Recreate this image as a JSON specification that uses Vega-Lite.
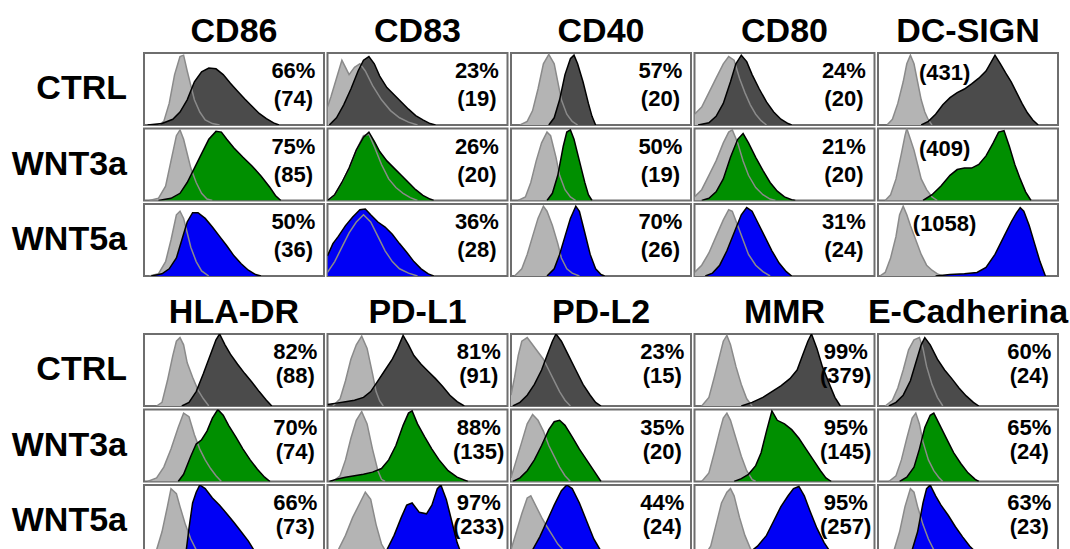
{
"$schema":"https://vega.github.io/schema/vega-lite/v6.json",
"background":"white",
"padding":{"left":11,"top":15,"right":0,"bottom":0},
"data":{"values":[
{"m":"CD86","c":"CTRL","s":"i","x":8,"y":0},{"m":"CD86","c":"CTRL","s":"i","x":11,"y":0.05},{"m":"CD86","c":"CTRL","s":"i","x":14,"y":0.3},{"m":"CD86","c":"CTRL","s":"i","x":17,"y":0.7},{"m":"CD86","c":"CTRL","s":"i","x":20,"y":0.95},{"m":"CD86","c":"CTRL","s":"i","x":22,"y":0.97},{"m":"CD86","c":"CTRL","s":"i","x":24,"y":0.75},{"m":"CD86","c":"CTRL","s":"i","x":26,"y":0.55},{"m":"CD86","c":"CTRL","s":"i","x":28,"y":0.35},{"m":"CD86","c":"CTRL","s":"i","x":31,"y":0.18},{"m":"CD86","c":"CTRL","s":"i","x":34,"y":0.07},{"m":"CD86","c":"CTRL","s":"i","x":38,"y":0.02},{"m":"CD86","c":"CTRL","s":"i","x":42,"y":0},
{"m":"CD86","c":"CTRL","s":"s","x":2,"y":0},{"m":"CD86","c":"CTRL","s":"s","x":10,"y":0.02},{"m":"CD86","c":"CTRL","s":"s","x":16,"y":0.08},{"m":"CD86","c":"CTRL","s":"s","x":20,"y":0.18},{"m":"CD86","c":"CTRL","s":"s","x":24,"y":0.35},{"m":"CD86","c":"CTRL","s":"s","x":28,"y":0.6},{"m":"CD86","c":"CTRL","s":"s","x":32,"y":0.74},{"m":"CD86","c":"CTRL","s":"s","x":36,"y":0.79},{"m":"CD86","c":"CTRL","s":"s","x":40,"y":0.78},{"m":"CD86","c":"CTRL","s":"s","x":44,"y":0.7},{"m":"CD86","c":"CTRL","s":"s","x":48,"y":0.58},{"m":"CD86","c":"CTRL","s":"s","x":52,"y":0.47},{"m":"CD86","c":"CTRL","s":"s","x":56,"y":0.36},{"m":"CD86","c":"CTRL","s":"s","x":60,"y":0.26},{"m":"CD86","c":"CTRL","s":"s","x":64,"y":0.16},{"m":"CD86","c":"CTRL","s":"s","x":68,"y":0.09},{"m":"CD86","c":"CTRL","s":"s","x":72,"y":0.03},{"m":"CD86","c":"CTRL","s":"s","x":75,"y":0},
{"m":"CD86","c":"WNT3a","s":"i","x":3,"y":0},{"m":"CD86","c":"WNT3a","s":"i","x":8,"y":0.03},{"m":"CD86","c":"WNT3a","s":"i","x":12,"y":0.2},{"m":"CD86","c":"WNT3a","s":"i","x":15,"y":0.55},{"m":"CD86","c":"WNT3a","s":"i","x":18,"y":0.9},{"m":"CD86","c":"WNT3a","s":"i","x":20,"y":0.98},{"m":"CD86","c":"WNT3a","s":"i","x":22,"y":0.85},{"m":"CD86","c":"WNT3a","s":"i","x":24,"y":0.65},{"m":"CD86","c":"WNT3a","s":"i","x":26,"y":0.45},{"m":"CD86","c":"WNT3a","s":"i","x":29,"y":0.25},{"m":"CD86","c":"WNT3a","s":"i","x":32,"y":0.1},{"m":"CD86","c":"WNT3a","s":"i","x":35,"y":0.02},{"m":"CD86","c":"WNT3a","s":"i","x":38,"y":0},
{"m":"CD86","c":"WNT3a","s":"s","x":8,"y":0},{"m":"CD86","c":"WNT3a","s":"s","x":15,"y":0.03},{"m":"CD86","c":"WNT3a","s":"s","x":20,"y":0.1},{"m":"CD86","c":"WNT3a","s":"s","x":24,"y":0.25},{"m":"CD86","c":"WNT3a","s":"s","x":28,"y":0.45},{"m":"CD86","c":"WNT3a","s":"s","x":32,"y":0.65},{"m":"CD86","c":"WNT3a","s":"s","x":36,"y":0.85},{"m":"CD86","c":"WNT3a","s":"s","x":40,"y":0.96},{"m":"CD86","c":"WNT3a","s":"s","x":43,"y":0.95},{"m":"CD86","c":"WNT3a","s":"s","x":46,"y":0.85},{"m":"CD86","c":"WNT3a","s":"s","x":50,"y":0.73},{"m":"CD86","c":"WNT3a","s":"s","x":55,"y":0.6},{"m":"CD86","c":"WNT3a","s":"s","x":60,"y":0.48},{"m":"CD86","c":"WNT3a","s":"s","x":65,"y":0.34},{"m":"CD86","c":"WNT3a","s":"s","x":70,"y":0.18},{"m":"CD86","c":"WNT3a","s":"s","x":73,"y":0.07},{"m":"CD86","c":"WNT3a","s":"s","x":76,"y":0},
{"m":"CD86","c":"WNT5a","s":"i","x":3,"y":0},{"m":"CD86","c":"WNT5a","s":"i","x":8,"y":0.03},{"m":"CD86","c":"WNT5a","s":"i","x":12,"y":0.2},{"m":"CD86","c":"WNT5a","s":"i","x":15,"y":0.5},{"m":"CD86","c":"WNT5a","s":"i","x":18,"y":0.85},{"m":"CD86","c":"WNT5a","s":"i","x":20,"y":0.9},{"m":"CD86","c":"WNT5a","s":"i","x":22,"y":0.8},{"m":"CD86","c":"WNT5a","s":"i","x":24,"y":0.6},{"m":"CD86","c":"WNT5a","s":"i","x":26,"y":0.4},{"m":"CD86","c":"WNT5a","s":"i","x":29,"y":0.2},{"m":"CD86","c":"WNT5a","s":"i","x":32,"y":0.07},{"m":"CD86","c":"WNT5a","s":"i","x":36,"y":0},
{"m":"CD86","c":"WNT5a","s":"s","x":4,"y":0},{"m":"CD86","c":"WNT5a","s":"s","x":10,"y":0.03},{"m":"CD86","c":"WNT5a","s":"s","x":14,"y":0.1},{"m":"CD86","c":"WNT5a","s":"s","x":18,"y":0.25},{"m":"CD86","c":"WNT5a","s":"s","x":21,"y":0.5},{"m":"CD86","c":"WNT5a","s":"s","x":24,"y":0.75},{"m":"CD86","c":"WNT5a","s":"s","x":27,"y":0.88},{"m":"CD86","c":"WNT5a","s":"s","x":30,"y":0.88},{"m":"CD86","c":"WNT5a","s":"s","x":34,"y":0.8},{"m":"CD86","c":"WNT5a","s":"s","x":38,"y":0.68},{"m":"CD86","c":"WNT5a","s":"s","x":42,"y":0.55},{"m":"CD86","c":"WNT5a","s":"s","x":46,"y":0.42},{"m":"CD86","c":"WNT5a","s":"s","x":50,"y":0.28},{"m":"CD86","c":"WNT5a","s":"s","x":54,"y":0.17},{"m":"CD86","c":"WNT5a","s":"s","x":58,"y":0.08},{"m":"CD86","c":"WNT5a","s":"s","x":62,"y":0.02},{"m":"CD86","c":"WNT5a","s":"s","x":65,"y":0},
{"m":"CD83","c":"CTRL","s":"i","x":0,"y":0.25},{"m":"CD83","c":"CTRL","s":"i","x":2,"y":0.4},{"m":"CD83","c":"CTRL","s":"i","x":5,"y":0.65},{"m":"CD83","c":"CTRL","s":"i","x":8,"y":0.9},{"m":"CD83","c":"CTRL","s":"i","x":10,"y":0.8},{"m":"CD83","c":"CTRL","s":"i","x":12,"y":0.7},{"m":"CD83","c":"CTRL","s":"i","x":15,"y":0.8},{"m":"CD83","c":"CTRL","s":"i","x":18,"y":0.85},{"m":"CD83","c":"CTRL","s":"i","x":21,"y":0.75},{"m":"CD83","c":"CTRL","s":"i","x":25,"y":0.55},{"m":"CD83","c":"CTRL","s":"i","x":30,"y":0.35},{"m":"CD83","c":"CTRL","s":"i","x":35,"y":0.2},{"m":"CD83","c":"CTRL","s":"i","x":40,"y":0.1},{"m":"CD83","c":"CTRL","s":"i","x":45,"y":0.04},{"m":"CD83","c":"CTRL","s":"i","x":50,"y":0},
{"m":"CD83","c":"CTRL","s":"s","x":1,"y":0},{"m":"CD83","c":"CTRL","s":"s","x":5,"y":0.1},{"m":"CD83","c":"CTRL","s":"s","x":9,"y":0.28},{"m":"CD83","c":"CTRL","s":"s","x":13,"y":0.5},{"m":"CD83","c":"CTRL","s":"s","x":17,"y":0.75},{"m":"CD83","c":"CTRL","s":"s","x":20,"y":0.9},{"m":"CD83","c":"CTRL","s":"s","x":23,"y":0.95},{"m":"CD83","c":"CTRL","s":"s","x":26,"y":0.85},{"m":"CD83","c":"CTRL","s":"s","x":29,"y":0.68},{"m":"CD83","c":"CTRL","s":"s","x":33,"y":0.52},{"m":"CD83","c":"CTRL","s":"s","x":37,"y":0.42},{"m":"CD83","c":"CTRL","s":"s","x":41,"y":0.32},{"m":"CD83","c":"CTRL","s":"s","x":45,"y":0.22},{"m":"CD83","c":"CTRL","s":"s","x":49,"y":0.13},{"m":"CD83","c":"CTRL","s":"s","x":53,"y":0.07},{"m":"CD83","c":"CTRL","s":"s","x":57,"y":0.02},{"m":"CD83","c":"CTRL","s":"s","x":60,"y":0},
{"m":"CD83","c":"WNT3a","s":"i","x":0,"y":0},{"m":"CD83","c":"WNT3a","s":"i","x":4,"y":0.08},{"m":"CD83","c":"WNT3a","s":"i","x":8,"y":0.25},{"m":"CD83","c":"WNT3a","s":"i","x":12,"y":0.45},{"m":"CD83","c":"WNT3a","s":"i","x":16,"y":0.7},{"m":"CD83","c":"WNT3a","s":"i","x":20,"y":0.9},{"m":"CD83","c":"WNT3a","s":"i","x":23,"y":0.92},{"m":"CD83","c":"WNT3a","s":"i","x":26,"y":0.75},{"m":"CD83","c":"WNT3a","s":"i","x":30,"y":0.5},{"m":"CD83","c":"WNT3a","s":"i","x":34,"y":0.3},{"m":"CD83","c":"WNT3a","s":"i","x":38,"y":0.18},{"m":"CD83","c":"WNT3a","s":"i","x":42,"y":0.1},{"m":"CD83","c":"WNT3a","s":"i","x":46,"y":0.04},{"m":"CD83","c":"WNT3a","s":"i","x":50,"y":0},
{"m":"CD83","c":"WNT3a","s":"s","x":0,"y":0},{"m":"CD83","c":"WNT3a","s":"s","x":4,"y":0.08},{"m":"CD83","c":"WNT3a","s":"s","x":8,"y":0.25},{"m":"CD83","c":"WNT3a","s":"s","x":12,"y":0.45},{"m":"CD83","c":"WNT3a","s":"s","x":16,"y":0.7},{"m":"CD83","c":"WNT3a","s":"s","x":20,"y":0.88},{"m":"CD83","c":"WNT3a","s":"s","x":23,"y":0.95},{"m":"CD83","c":"WNT3a","s":"s","x":26,"y":0.82},{"m":"CD83","c":"WNT3a","s":"s","x":29,"y":0.68},{"m":"CD83","c":"WNT3a","s":"s","x":33,"y":0.55},{"m":"CD83","c":"WNT3a","s":"s","x":37,"y":0.45},{"m":"CD83","c":"WNT3a","s":"s","x":41,"y":0.35},{"m":"CD83","c":"WNT3a","s":"s","x":45,"y":0.25},{"m":"CD83","c":"WNT3a","s":"s","x":49,"y":0.15},{"m":"CD83","c":"WNT3a","s":"s","x":53,"y":0.07},{"m":"CD83","c":"WNT3a","s":"s","x":57,"y":0.02},{"m":"CD83","c":"WNT3a","s":"s","x":59,"y":0},
{"m":"CD83","c":"WNT5a","s":"i","x":0,"y":0.05},{"m":"CD83","c":"WNT5a","s":"i","x":4,"y":0.2},{"m":"CD83","c":"WNT5a","s":"i","x":8,"y":0.4},{"m":"CD83","c":"WNT5a","s":"i","x":12,"y":0.6},{"m":"CD83","c":"WNT5a","s":"i","x":16,"y":0.75},{"m":"CD83","c":"WNT5a","s":"i","x":20,"y":0.85},{"m":"CD83","c":"WNT5a","s":"i","x":24,"y":0.75},{"m":"CD83","c":"WNT5a","s":"i","x":28,"y":0.55},{"m":"CD83","c":"WNT5a","s":"i","x":32,"y":0.35},{"m":"CD83","c":"WNT5a","s":"i","x":36,"y":0.2},{"m":"CD83","c":"WNT5a","s":"i","x":40,"y":0.1},{"m":"CD83","c":"WNT5a","s":"i","x":45,"y":0.04},{"m":"CD83","c":"WNT5a","s":"i","x":50,"y":0},
{"m":"CD83","c":"WNT5a","s":"s","x":0,"y":0.28},{"m":"CD83","c":"WNT5a","s":"s","x":3,"y":0.45},{"m":"CD83","c":"WNT5a","s":"s","x":6,"y":0.55},{"m":"CD83","c":"WNT5a","s":"s","x":10,"y":0.7},{"m":"CD83","c":"WNT5a","s":"s","x":14,"y":0.82},{"m":"CD83","c":"WNT5a","s":"s","x":18,"y":0.92},{"m":"CD83","c":"WNT5a","s":"s","x":21,"y":0.93},{"m":"CD83","c":"WNT5a","s":"s","x":24,"y":0.85},{"m":"CD83","c":"WNT5a","s":"s","x":28,"y":0.75},{"m":"CD83","c":"WNT5a","s":"s","x":32,"y":0.68},{"m":"CD83","c":"WNT5a","s":"s","x":36,"y":0.58},{"m":"CD83","c":"WNT5a","s":"s","x":40,"y":0.45},{"m":"CD83","c":"WNT5a","s":"s","x":44,"y":0.33},{"m":"CD83","c":"WNT5a","s":"s","x":48,"y":0.2},{"m":"CD83","c":"WNT5a","s":"s","x":52,"y":0.1},{"m":"CD83","c":"WNT5a","s":"s","x":56,"y":0.03},{"m":"CD83","c":"WNT5a","s":"s","x":59,"y":0},
{"m":"CD40","c":"CTRL","s":"i","x":5,"y":0},{"m":"CD40","c":"CTRL","s":"i","x":9,"y":0.05},{"m":"CD40","c":"CTRL","s":"i","x":12,"y":0.2},{"m":"CD40","c":"CTRL","s":"i","x":15,"y":0.5},{"m":"CD40","c":"CTRL","s":"i","x":18,"y":0.85},{"m":"CD40","c":"CTRL","s":"i","x":21,"y":0.98},{"m":"CD40","c":"CTRL","s":"i","x":24,"y":0.85},{"m":"CD40","c":"CTRL","s":"i","x":26,"y":0.6},{"m":"CD40","c":"CTRL","s":"i","x":28,"y":0.35},{"m":"CD40","c":"CTRL","s":"i","x":31,"y":0.15},{"m":"CD40","c":"CTRL","s":"i","x":34,"y":0.05},{"m":"CD40","c":"CTRL","s":"i","x":37,"y":0},
{"m":"CD40","c":"CTRL","s":"s","x":21,"y":0},{"m":"CD40","c":"CTRL","s":"s","x":24,"y":0.1},{"m":"CD40","c":"CTRL","s":"s","x":27,"y":0.35},{"m":"CD40","c":"CTRL","s":"s","x":30,"y":0.7},{"m":"CD40","c":"CTRL","s":"s","x":33,"y":0.92},{"m":"CD40","c":"CTRL","s":"s","x":35,"y":0.97},{"m":"CD40","c":"CTRL","s":"s","x":37,"y":0.85},{"m":"CD40","c":"CTRL","s":"s","x":40,"y":0.6},{"m":"CD40","c":"CTRL","s":"s","x":43,"y":0.3},{"m":"CD40","c":"CTRL","s":"s","x":45,"y":0.12},{"m":"CD40","c":"CTRL","s":"s","x":47,"y":0},
{"m":"CD40","c":"WNT3a","s":"i","x":4,"y":0},{"m":"CD40","c":"WNT3a","s":"i","x":8,"y":0.05},{"m":"CD40","c":"WNT3a","s":"i","x":11,"y":0.25},{"m":"CD40","c":"WNT3a","s":"i","x":14,"y":0.55},{"m":"CD40","c":"WNT3a","s":"i","x":17,"y":0.8},{"m":"CD40","c":"WNT3a","s":"i","x":20,"y":0.95},{"m":"CD40","c":"WNT3a","s":"i","x":22,"y":0.9},{"m":"CD40","c":"WNT3a","s":"i","x":25,"y":0.6},{"m":"CD40","c":"WNT3a","s":"i","x":27,"y":0.35},{"m":"CD40","c":"WNT3a","s":"i","x":30,"y":0.15},{"m":"CD40","c":"WNT3a","s":"i","x":33,"y":0.05},{"m":"CD40","c":"WNT3a","s":"i","x":36,"y":0},
{"m":"CD40","c":"WNT3a","s":"s","x":20,"y":0},{"m":"CD40","c":"WNT3a","s":"s","x":23,"y":0.1},{"m":"CD40","c":"WNT3a","s":"s","x":26,"y":0.35},{"m":"CD40","c":"WNT3a","s":"s","x":29,"y":0.75},{"m":"CD40","c":"WNT3a","s":"s","x":31,"y":0.95},{"m":"CD40","c":"WNT3a","s":"s","x":33,"y":0.98},{"m":"CD40","c":"WNT3a","s":"s","x":35,"y":0.85},{"m":"CD40","c":"WNT3a","s":"s","x":38,"y":0.55},{"m":"CD40","c":"WNT3a","s":"s","x":41,"y":0.25},{"m":"CD40","c":"WNT3a","s":"s","x":43,"y":0.08},{"m":"CD40","c":"WNT3a","s":"s","x":45,"y":0},
{"m":"CD40","c":"WNT5a","s":"i","x":2,"y":0},{"m":"CD40","c":"WNT5a","s":"i","x":6,"y":0.1},{"m":"CD40","c":"WNT5a","s":"i","x":9,"y":0.3},{"m":"CD40","c":"WNT5a","s":"i","x":12,"y":0.55},{"m":"CD40","c":"WNT5a","s":"i","x":15,"y":0.8},{"m":"CD40","c":"WNT5a","s":"i","x":18,"y":0.97},{"m":"CD40","c":"WNT5a","s":"i","x":20,"y":0.9},{"m":"CD40","c":"WNT5a","s":"i","x":23,"y":0.7},{"m":"CD40","c":"WNT5a","s":"i","x":26,"y":0.45},{"m":"CD40","c":"WNT5a","s":"i","x":28,"y":0.25},{"m":"CD40","c":"WNT5a","s":"i","x":31,"y":0.1},{"m":"CD40","c":"WNT5a","s":"i","x":34,"y":0.04},{"m":"CD40","c":"WNT5a","s":"i","x":38,"y":0},
{"m":"CD40","c":"WNT5a","s":"s","x":20,"y":0},{"m":"CD40","c":"WNT5a","s":"s","x":24,"y":0.1},{"m":"CD40","c":"WNT5a","s":"s","x":27,"y":0.3},{"m":"CD40","c":"WNT5a","s":"s","x":30,"y":0.55},{"m":"CD40","c":"WNT5a","s":"s","x":33,"y":0.8},{"m":"CD40","c":"WNT5a","s":"s","x":36,"y":0.97},{"m":"CD40","c":"WNT5a","s":"s","x":38,"y":0.9},{"m":"CD40","c":"WNT5a","s":"s","x":41,"y":0.6},{"m":"CD40","c":"WNT5a","s":"s","x":44,"y":0.3},{"m":"CD40","c":"WNT5a","s":"s","x":47,"y":0.1},{"m":"CD40","c":"WNT5a","s":"s","x":50,"y":0.02},{"m":"CD40","c":"WNT5a","s":"s","x":52,"y":0},
{"m":"CD80","c":"CTRL","s":"i","x":0,"y":0.15},{"m":"CD80","c":"CTRL","s":"i","x":4,"y":0.25},{"m":"CD80","c":"CTRL","s":"i","x":8,"y":0.45},{"m":"CD80","c":"CTRL","s":"i","x":12,"y":0.65},{"m":"CD80","c":"CTRL","s":"i","x":16,"y":0.85},{"m":"CD80","c":"CTRL","s":"i","x":19,"y":0.95},{"m":"CD80","c":"CTRL","s":"i","x":22,"y":0.9},{"m":"CD80","c":"CTRL","s":"i","x":25,"y":0.65},{"m":"CD80","c":"CTRL","s":"i","x":28,"y":0.45},{"m":"CD80","c":"CTRL","s":"i","x":31,"y":0.28},{"m":"CD80","c":"CTRL","s":"i","x":34,"y":0.15},{"m":"CD80","c":"CTRL","s":"i","x":37,"y":0.06},{"m":"CD80","c":"CTRL","s":"i","x":40,"y":0},
{"m":"CD80","c":"CTRL","s":"s","x":2,"y":0},{"m":"CD80","c":"CTRL","s":"s","x":8,"y":0.03},{"m":"CD80","c":"CTRL","s":"s","x":12,"y":0.12},{"m":"CD80","c":"CTRL","s":"s","x":16,"y":0.3},{"m":"CD80","c":"CTRL","s":"s","x":20,"y":0.6},{"m":"CD80","c":"CTRL","s":"s","x":23,"y":0.85},{"m":"CD80","c":"CTRL","s":"s","x":26,"y":0.97},{"m":"CD80","c":"CTRL","s":"s","x":29,"y":0.88},{"m":"CD80","c":"CTRL","s":"s","x":32,"y":0.7},{"m":"CD80","c":"CTRL","s":"s","x":36,"y":0.5},{"m":"CD80","c":"CTRL","s":"s","x":40,"y":0.32},{"m":"CD80","c":"CTRL","s":"s","x":44,"y":0.18},{"m":"CD80","c":"CTRL","s":"s","x":48,"y":0.08},{"m":"CD80","c":"CTRL","s":"s","x":52,"y":0.02},{"m":"CD80","c":"CTRL","s":"s","x":54,"y":0},
{"m":"CD80","c":"WNT3a","s":"i","x":0,"y":0.05},{"m":"CD80","c":"WNT3a","s":"i","x":4,"y":0.15},{"m":"CD80","c":"WNT3a","s":"i","x":8,"y":0.35},{"m":"CD80","c":"WNT3a","s":"i","x":12,"y":0.55},{"m":"CD80","c":"WNT3a","s":"i","x":16,"y":0.8},{"m":"CD80","c":"WNT3a","s":"i","x":19,"y":0.95},{"m":"CD80","c":"WNT3a","s":"i","x":21,"y":0.98},{"m":"CD80","c":"WNT3a","s":"i","x":24,"y":0.8},{"m":"CD80","c":"WNT3a","s":"i","x":27,"y":0.55},{"m":"CD80","c":"WNT3a","s":"i","x":30,"y":0.35},{"m":"CD80","c":"WNT3a","s":"i","x":34,"y":0.18},{"m":"CD80","c":"WNT3a","s":"i","x":38,"y":0.08},{"m":"CD80","c":"WNT3a","s":"i","x":42,"y":0.02},{"m":"CD80","c":"WNT3a","s":"i","x":45,"y":0},
{"m":"CD80","c":"WNT3a","s":"s","x":4,"y":0},{"m":"CD80","c":"WNT3a","s":"s","x":8,"y":0.03},{"m":"CD80","c":"WNT3a","s":"s","x":12,"y":0.12},{"m":"CD80","c":"WNT3a","s":"s","x":16,"y":0.3},{"m":"CD80","c":"WNT3a","s":"s","x":20,"y":0.6},{"m":"CD80","c":"WNT3a","s":"s","x":24,"y":0.85},{"m":"CD80","c":"WNT3a","s":"s","x":27,"y":0.93},{"m":"CD80","c":"WNT3a","s":"s","x":30,"y":0.8},{"m":"CD80","c":"WNT3a","s":"s","x":34,"y":0.6},{"m":"CD80","c":"WNT3a","s":"s","x":38,"y":0.42},{"m":"CD80","c":"WNT3a","s":"s","x":42,"y":0.25},{"m":"CD80","c":"WNT3a","s":"s","x":46,"y":0.13},{"m":"CD80","c":"WNT3a","s":"s","x":50,"y":0.05},{"m":"CD80","c":"WNT3a","s":"s","x":54,"y":0.01},{"m":"CD80","c":"WNT3a","s":"s","x":56,"y":0},
{"m":"CD80","c":"WNT5a","s":"i","x":0,"y":0.05},{"m":"CD80","c":"WNT5a","s":"i","x":4,"y":0.15},{"m":"CD80","c":"WNT5a","s":"i","x":8,"y":0.32},{"m":"CD80","c":"WNT5a","s":"i","x":12,"y":0.55},{"m":"CD80","c":"WNT5a","s":"i","x":16,"y":0.78},{"m":"CD80","c":"WNT5a","s":"i","x":19,"y":0.92},{"m":"CD80","c":"WNT5a","s":"i","x":21,"y":0.9},{"m":"CD80","c":"WNT5a","s":"i","x":24,"y":0.7},{"m":"CD80","c":"WNT5a","s":"i","x":27,"y":0.5},{"m":"CD80","c":"WNT5a","s":"i","x":30,"y":0.3},{"m":"CD80","c":"WNT5a","s":"i","x":34,"y":0.15},{"m":"CD80","c":"WNT5a","s":"i","x":38,"y":0.06},{"m":"CD80","c":"WNT5a","s":"i","x":42,"y":0},
{"m":"CD80","c":"WNT5a","s":"s","x":6,"y":0},{"m":"CD80","c":"WNT5a","s":"s","x":10,"y":0.04},{"m":"CD80","c":"WNT5a","s":"s","x":14,"y":0.15},{"m":"CD80","c":"WNT5a","s":"s","x":18,"y":0.35},{"m":"CD80","c":"WNT5a","s":"s","x":22,"y":0.6},{"m":"CD80","c":"WNT5a","s":"s","x":26,"y":0.85},{"m":"CD80","c":"WNT5a","s":"s","x":29,"y":0.95},{"m":"CD80","c":"WNT5a","s":"s","x":32,"y":0.9},{"m":"CD80","c":"WNT5a","s":"s","x":35,"y":0.75},{"m":"CD80","c":"WNT5a","s":"s","x":39,"y":0.55},{"m":"CD80","c":"WNT5a","s":"s","x":43,"y":0.35},{"m":"CD80","c":"WNT5a","s":"s","x":47,"y":0.18},{"m":"CD80","c":"WNT5a","s":"s","x":51,"y":0.06},{"m":"CD80","c":"WNT5a","s":"s","x":54,"y":0},
{"m":"DC-SIGN","c":"CTRL","s":"i","x":5,"y":0},{"m":"DC-SIGN","c":"CTRL","s":"i","x":8,"y":0.08},{"m":"DC-SIGN","c":"CTRL","s":"i","x":11,"y":0.3},{"m":"DC-SIGN","c":"CTRL","s":"i","x":14,"y":0.6},{"m":"DC-SIGN","c":"CTRL","s":"i","x":16,"y":0.85},{"m":"DC-SIGN","c":"CTRL","s":"i","x":18,"y":0.97},{"m":"DC-SIGN","c":"CTRL","s":"i","x":20,"y":0.85},{"m":"DC-SIGN","c":"CTRL","s":"i","x":22,"y":0.6},{"m":"DC-SIGN","c":"CTRL","s":"i","x":24,"y":0.35},{"m":"DC-SIGN","c":"CTRL","s":"i","x":26,"y":0.18},{"m":"DC-SIGN","c":"CTRL","s":"i","x":28,"y":0.07},{"m":"DC-SIGN","c":"CTRL","s":"i","x":30,"y":0},
{"m":"DC-SIGN","c":"CTRL","s":"s","x":24,"y":0},{"m":"DC-SIGN","c":"CTRL","s":"s","x":28,"y":0.05},{"m":"DC-SIGN","c":"CTRL","s":"s","x":32,"y":0.15},{"m":"DC-SIGN","c":"CTRL","s":"s","x":36,"y":0.28},{"m":"DC-SIGN","c":"CTRL","s":"s","x":40,"y":0.38},{"m":"DC-SIGN","c":"CTRL","s":"s","x":44,"y":0.45},{"m":"DC-SIGN","c":"CTRL","s":"s","x":48,"y":0.5},{"m":"DC-SIGN","c":"CTRL","s":"s","x":52,"y":0.57},{"m":"DC-SIGN","c":"CTRL","s":"s","x":56,"y":0.65},{"m":"DC-SIGN","c":"CTRL","s":"s","x":60,"y":0.75},{"m":"DC-SIGN","c":"CTRL","s":"s","x":63,"y":0.88},{"m":"DC-SIGN","c":"CTRL","s":"s","x":65,"y":0.97},{"m":"DC-SIGN","c":"CTRL","s":"s","x":68,"y":0.85},{"m":"DC-SIGN","c":"CTRL","s":"s","x":71,"y":0.72},{"m":"DC-SIGN","c":"CTRL","s":"s","x":74,"y":0.6},{"m":"DC-SIGN","c":"CTRL","s":"s","x":77,"y":0.45},{"m":"DC-SIGN","c":"CTRL","s":"s","x":80,"y":0.3},{"m":"DC-SIGN","c":"CTRL","s":"s","x":83,"y":0.17},{"m":"DC-SIGN","c":"CTRL","s":"s","x":86,"y":0.07},{"m":"DC-SIGN","c":"CTRL","s":"s","x":89,"y":0},
{"m":"DC-SIGN","c":"WNT3a","s":"i","x":4,"y":0},{"m":"DC-SIGN","c":"WNT3a","s":"i","x":7,"y":0.08},{"m":"DC-SIGN","c":"WNT3a","s":"i","x":10,"y":0.3},{"m":"DC-SIGN","c":"WNT3a","s":"i","x":13,"y":0.65},{"m":"DC-SIGN","c":"WNT3a","s":"i","x":15,"y":0.9},{"m":"DC-SIGN","c":"WNT3a","s":"i","x":16,"y":1.0},{"m":"DC-SIGN","c":"WNT3a","s":"i","x":18,"y":0.85},{"m":"DC-SIGN","c":"WNT3a","s":"i","x":20,"y":0.7},{"m":"DC-SIGN","c":"WNT3a","s":"i","x":22,"y":0.5},{"m":"DC-SIGN","c":"WNT3a","s":"i","x":24,"y":0.3},{"m":"DC-SIGN","c":"WNT3a","s":"i","x":27,"y":0.15},{"m":"DC-SIGN","c":"WNT3a","s":"i","x":30,"y":0.05},{"m":"DC-SIGN","c":"WNT3a","s":"i","x":33,"y":0},
{"m":"DC-SIGN","c":"WNT3a","s":"s","x":25,"y":0},{"m":"DC-SIGN","c":"WNT3a","s":"s","x":30,"y":0.08},{"m":"DC-SIGN","c":"WNT3a","s":"s","x":35,"y":0.2},{"m":"DC-SIGN","c":"WNT3a","s":"s","x":40,"y":0.35},{"m":"DC-SIGN","c":"WNT3a","s":"s","x":44,"y":0.43},{"m":"DC-SIGN","c":"WNT3a","s":"s","x":48,"y":0.45},{"m":"DC-SIGN","c":"WNT3a","s":"s","x":52,"y":0.45},{"m":"DC-SIGN","c":"WNT3a","s":"s","x":56,"y":0.5},{"m":"DC-SIGN","c":"WNT3a","s":"s","x":60,"y":0.62},{"m":"DC-SIGN","c":"WNT3a","s":"s","x":64,"y":0.8},{"m":"DC-SIGN","c":"WNT3a","s":"s","x":67,"y":0.95},{"m":"DC-SIGN","c":"WNT3a","s":"s","x":70,"y":0.97},{"m":"DC-SIGN","c":"WNT3a","s":"s","x":73,"y":0.75},{"m":"DC-SIGN","c":"WNT3a","s":"s","x":76,"y":0.5},{"m":"DC-SIGN","c":"WNT3a","s":"s","x":79,"y":0.3},{"m":"DC-SIGN","c":"WNT3a","s":"s","x":82,"y":0.12},{"m":"DC-SIGN","c":"WNT3a","s":"s","x":85,"y":0},
{"m":"DC-SIGN","c":"WNT5a","s":"i","x":1,"y":0},{"m":"DC-SIGN","c":"WNT5a","s":"i","x":4,"y":0.05},{"m":"DC-SIGN","c":"WNT5a","s":"i","x":7,"y":0.25},{"m":"DC-SIGN","c":"WNT5a","s":"i","x":10,"y":0.55},{"m":"DC-SIGN","c":"WNT5a","s":"i","x":12,"y":0.85},{"m":"DC-SIGN","c":"WNT5a","s":"i","x":14,"y":0.97},{"m":"DC-SIGN","c":"WNT5a","s":"i","x":16,"y":0.85},{"m":"DC-SIGN","c":"WNT5a","s":"i","x":18,"y":0.7},{"m":"DC-SIGN","c":"WNT5a","s":"i","x":21,"y":0.5},{"m":"DC-SIGN","c":"WNT5a","s":"i","x":24,"y":0.3},{"m":"DC-SIGN","c":"WNT5a","s":"i","x":27,"y":0.15},{"m":"DC-SIGN","c":"WNT5a","s":"i","x":30,"y":0.08},{"m":"DC-SIGN","c":"WNT5a","s":"i","x":33,"y":0.03},{"m":"DC-SIGN","c":"WNT5a","s":"i","x":36,"y":0},
{"m":"DC-SIGN","c":"WNT5a","s":"s","x":32,"y":0},{"m":"DC-SIGN","c":"WNT5a","s":"s","x":40,"y":0.02},{"m":"DC-SIGN","c":"WNT5a","s":"s","x":48,"y":0.03},{"m":"DC-SIGN","c":"WNT5a","s":"s","x":55,"y":0.05},{"m":"DC-SIGN","c":"WNT5a","s":"s","x":60,"y":0.12},{"m":"DC-SIGN","c":"WNT5a","s":"s","x":65,"y":0.3},{"m":"DC-SIGN","c":"WNT5a","s":"s","x":70,"y":0.55},{"m":"DC-SIGN","c":"WNT5a","s":"s","x":74,"y":0.75},{"m":"DC-SIGN","c":"WNT5a","s":"s","x":77,"y":0.88},{"m":"DC-SIGN","c":"WNT5a","s":"s","x":79,"y":0.95},{"m":"DC-SIGN","c":"WNT5a","s":"s","x":81,"y":0.9},{"m":"DC-SIGN","c":"WNT5a","s":"s","x":84,"y":0.7},{"m":"DC-SIGN","c":"WNT5a","s":"s","x":87,"y":0.45},{"m":"DC-SIGN","c":"WNT5a","s":"s","x":90,"y":0.2},{"m":"DC-SIGN","c":"WNT5a","s":"s","x":93,"y":0},
{"m":"HLA-DR","c":"CTRL","s":"i","x":7,"y":0},{"m":"HLA-DR","c":"CTRL","s":"i","x":10,"y":0.05},{"m":"HLA-DR","c":"CTRL","s":"i","x":13,"y":0.35},{"m":"HLA-DR","c":"CTRL","s":"i","x":16,"y":0.7},{"m":"HLA-DR","c":"CTRL","s":"i","x":18,"y":0.9},{"m":"HLA-DR","c":"CTRL","s":"i","x":20,"y":0.95},{"m":"HLA-DR","c":"CTRL","s":"i","x":22,"y":0.85},{"m":"HLA-DR","c":"CTRL","s":"i","x":24,"y":0.6},{"m":"HLA-DR","c":"CTRL","s":"i","x":27,"y":0.4},{"m":"HLA-DR","c":"CTRL","s":"i","x":30,"y":0.22},{"m":"HLA-DR","c":"CTRL","s":"i","x":33,"y":0.1},{"m":"HLA-DR","c":"CTRL","s":"i","x":36,"y":0},
{"m":"HLA-DR","c":"CTRL","s":"s","x":21,"y":0},{"m":"HLA-DR","c":"CTRL","s":"s","x":25,"y":0.05},{"m":"HLA-DR","c":"CTRL","s":"s","x":29,"y":0.2},{"m":"HLA-DR","c":"CTRL","s":"s","x":33,"y":0.45},{"m":"HLA-DR","c":"CTRL","s":"s","x":37,"y":0.72},{"m":"HLA-DR","c":"CTRL","s":"s","x":40,"y":0.92},{"m":"HLA-DR","c":"CTRL","s":"s","x":42,"y":1.0},{"m":"HLA-DR","c":"CTRL","s":"s","x":45,"y":0.85},{"m":"HLA-DR","c":"CTRL","s":"s","x":48,"y":0.72},{"m":"HLA-DR","c":"CTRL","s":"s","x":52,"y":0.58},{"m":"HLA-DR","c":"CTRL","s":"s","x":56,"y":0.45},{"m":"HLA-DR","c":"CTRL","s":"s","x":60,"y":0.33},{"m":"HLA-DR","c":"CTRL","s":"s","x":64,"y":0.2},{"m":"HLA-DR","c":"CTRL","s":"s","x":68,"y":0.08},{"m":"HLA-DR","c":"CTRL","s":"s","x":71,"y":0},
{"m":"HLA-DR","c":"WNT3a","s":"i","x":2,"y":0},{"m":"HLA-DR","c":"WNT3a","s":"i","x":7,"y":0.05},{"m":"HLA-DR","c":"WNT3a","s":"i","x":11,"y":0.2},{"m":"HLA-DR","c":"WNT3a","s":"i","x":15,"y":0.45},{"m":"HLA-DR","c":"WNT3a","s":"i","x":19,"y":0.75},{"m":"HLA-DR","c":"WNT3a","s":"i","x":22,"y":0.95},{"m":"HLA-DR","c":"WNT3a","s":"i","x":25,"y":0.9},{"m":"HLA-DR","c":"WNT3a","s":"i","x":28,"y":0.65},{"m":"HLA-DR","c":"WNT3a","s":"i","x":31,"y":0.45},{"m":"HLA-DR","c":"WNT3a","s":"i","x":34,"y":0.3},{"m":"HLA-DR","c":"WNT3a","s":"i","x":37,"y":0.18},{"m":"HLA-DR","c":"WNT3a","s":"i","x":40,"y":0.08},{"m":"HLA-DR","c":"WNT3a","s":"i","x":43,"y":0},
{"m":"HLA-DR","c":"WNT3a","s":"s","x":19,"y":0},{"m":"HLA-DR","c":"WNT3a","s":"s","x":22,"y":0.1},{"m":"HLA-DR","c":"WNT3a","s":"s","x":26,"y":0.35},{"m":"HLA-DR","c":"WNT3a","s":"s","x":29,"y":0.52},{"m":"HLA-DR","c":"WNT3a","s":"s","x":32,"y":0.58},{"m":"HLA-DR","c":"WNT3a","s":"s","x":35,"y":0.7},{"m":"HLA-DR","c":"WNT3a","s":"s","x":38,"y":0.88},{"m":"HLA-DR","c":"WNT3a","s":"s","x":41,"y":1.0},{"m":"HLA-DR","c":"WNT3a","s":"s","x":44,"y":0.92},{"m":"HLA-DR","c":"WNT3a","s":"s","x":47,"y":0.78},{"m":"HLA-DR","c":"WNT3a","s":"s","x":51,"y":0.62},{"m":"HLA-DR","c":"WNT3a","s":"s","x":55,"y":0.45},{"m":"HLA-DR","c":"WNT3a","s":"s","x":59,"y":0.3},{"m":"HLA-DR","c":"WNT3a","s":"s","x":63,"y":0.17},{"m":"HLA-DR","c":"WNT3a","s":"s","x":67,"y":0.06},{"m":"HLA-DR","c":"WNT3a","s":"s","x":70,"y":0},
{"m":"HLA-DR","c":"WNT5a","s":"i","x":3,"y":0},{"m":"HLA-DR","c":"WNT5a","s":"i","x":7,"y":0.1},{"m":"HLA-DR","c":"WNT5a","s":"i","x":10,"y":0.35},{"m":"HLA-DR","c":"WNT5a","s":"i","x":13,"y":0.7},{"m":"HLA-DR","c":"WNT5a","s":"i","x":15,"y":0.95},{"m":"HLA-DR","c":"WNT5a","s":"i","x":18,"y":0.88},{"m":"HLA-DR","c":"WNT5a","s":"i","x":20,"y":0.7},{"m":"HLA-DR","c":"WNT5a","s":"i","x":23,"y":0.45},{"m":"HLA-DR","c":"WNT5a","s":"i","x":26,"y":0.25},{"m":"HLA-DR","c":"WNT5a","s":"i","x":29,"y":0.1},{"m":"HLA-DR","c":"WNT5a","s":"i","x":32,"y":0.03},{"m":"HLA-DR","c":"WNT5a","s":"i","x":35,"y":0},
{"m":"HLA-DR","c":"WNT5a","s":"s","x":23,"y":0},{"m":"HLA-DR","c":"WNT5a","s":"s","x":25,"y":0.4},{"m":"HLA-DR","c":"WNT5a","s":"s","x":27,"y":0.75},{"m":"HLA-DR","c":"WNT5a","s":"s","x":29,"y":0.9},{"m":"HLA-DR","c":"WNT5a","s":"s","x":31,"y":1.0},{"m":"HLA-DR","c":"WNT5a","s":"s","x":34,"y":0.95},{"m":"HLA-DR","c":"WNT5a","s":"s","x":38,"y":0.82},{"m":"HLA-DR","c":"WNT5a","s":"s","x":42,"y":0.72},{"m":"HLA-DR","c":"WNT5a","s":"s","x":46,"y":0.6},{"m":"HLA-DR","c":"WNT5a","s":"s","x":50,"y":0.48},{"m":"HLA-DR","c":"WNT5a","s":"s","x":54,"y":0.35},{"m":"HLA-DR","c":"WNT5a","s":"s","x":58,"y":0.22},{"m":"HLA-DR","c":"WNT5a","s":"s","x":61,"y":0.1},{"m":"HLA-DR","c":"WNT5a","s":"s","x":64,"y":0},
{"m":"PD-L1","c":"CTRL","s":"i","x":3,"y":0},{"m":"PD-L1","c":"CTRL","s":"i","x":7,"y":0.1},{"m":"PD-L1","c":"CTRL","s":"i","x":10,"y":0.35},{"m":"PD-L1","c":"CTRL","s":"i","x":13,"y":0.65},{"m":"PD-L1","c":"CTRL","s":"i","x":16,"y":0.85},{"m":"PD-L1","c":"CTRL","s":"i","x":19,"y":0.97},{"m":"PD-L1","c":"CTRL","s":"i","x":22,"y":0.8},{"m":"PD-L1","c":"CTRL","s":"i","x":25,"y":0.45},{"m":"PD-L1","c":"CTRL","s":"i","x":27,"y":0.2},{"m":"PD-L1","c":"CTRL","s":"i","x":29,"y":0.07},{"m":"PD-L1","c":"CTRL","s":"i","x":31,"y":0},
{"m":"PD-L1","c":"CTRL","s":"s","x":0,"y":0.02},{"m":"PD-L1","c":"CTRL","s":"s","x":5,"y":0.04},{"m":"PD-L1","c":"CTRL","s":"s","x":10,"y":0.06},{"m":"PD-L1","c":"CTRL","s":"s","x":15,"y":0.08},{"m":"PD-L1","c":"CTRL","s":"s","x":20,"y":0.12},{"m":"PD-L1","c":"CTRL","s":"s","x":24,"y":0.2},{"m":"PD-L1","c":"CTRL","s":"s","x":28,"y":0.35},{"m":"PD-L1","c":"CTRL","s":"s","x":32,"y":0.5},{"m":"PD-L1","c":"CTRL","s":"s","x":36,"y":0.65},{"m":"PD-L1","c":"CTRL","s":"s","x":39,"y":0.8},{"m":"PD-L1","c":"CTRL","s":"s","x":42,"y":0.98},{"m":"PD-L1","c":"CTRL","s":"s","x":45,"y":0.85},{"m":"PD-L1","c":"CTRL","s":"s","x":48,"y":0.7},{"m":"PD-L1","c":"CTRL","s":"s","x":52,"y":0.58},{"m":"PD-L1","c":"CTRL","s":"s","x":56,"y":0.48},{"m":"PD-L1","c":"CTRL","s":"s","x":60,"y":0.38},{"m":"PD-L1","c":"CTRL","s":"s","x":64,"y":0.27},{"m":"PD-L1","c":"CTRL","s":"s","x":68,"y":0.15},{"m":"PD-L1","c":"CTRL","s":"s","x":72,"y":0.06},{"m":"PD-L1","c":"CTRL","s":"s","x":76,"y":0},
{"m":"PD-L1","c":"WNT3a","s":"i","x":3,"y":0},{"m":"PD-L1","c":"WNT3a","s":"i","x":7,"y":0.08},{"m":"PD-L1","c":"WNT3a","s":"i","x":10,"y":0.3},{"m":"PD-L1","c":"WNT3a","s":"i","x":13,"y":0.6},{"m":"PD-L1","c":"WNT3a","s":"i","x":16,"y":0.85},{"m":"PD-L1","c":"WNT3a","s":"i","x":19,"y":0.97},{"m":"PD-L1","c":"WNT3a","s":"i","x":22,"y":0.8},{"m":"PD-L1","c":"WNT3a","s":"i","x":25,"y":0.45},{"m":"PD-L1","c":"WNT3a","s":"i","x":28,"y":0.15},{"m":"PD-L1","c":"WNT3a","s":"i","x":30,"y":0.03},{"m":"PD-L1","c":"WNT3a","s":"i","x":32,"y":0},
{"m":"PD-L1","c":"WNT3a","s":"s","x":1,"y":0},{"m":"PD-L1","c":"WNT3a","s":"s","x":5,"y":0.03},{"m":"PD-L1","c":"WNT3a","s":"s","x":10,"y":0.06},{"m":"PD-L1","c":"WNT3a","s":"s","x":15,"y":0.08},{"m":"PD-L1","c":"WNT3a","s":"s","x":20,"y":0.1},{"m":"PD-L1","c":"WNT3a","s":"s","x":25,"y":0.13},{"m":"PD-L1","c":"WNT3a","s":"s","x":30,"y":0.18},{"m":"PD-L1","c":"WNT3a","s":"s","x":34,"y":0.3},{"m":"PD-L1","c":"WNT3a","s":"s","x":38,"y":0.5},{"m":"PD-L1","c":"WNT3a","s":"s","x":42,"y":0.78},{"m":"PD-L1","c":"WNT3a","s":"s","x":45,"y":0.95},{"m":"PD-L1","c":"WNT3a","s":"s","x":47,"y":0.98},{"m":"PD-L1","c":"WNT3a","s":"s","x":50,"y":0.8},{"m":"PD-L1","c":"WNT3a","s":"s","x":54,"y":0.62},{"m":"PD-L1","c":"WNT3a","s":"s","x":58,"y":0.45},{"m":"PD-L1","c":"WNT3a","s":"s","x":62,"y":0.3},{"m":"PD-L1","c":"WNT3a","s":"s","x":67,"y":0.15},{"m":"PD-L1","c":"WNT3a","s":"s","x":72,"y":0.06},{"m":"PD-L1","c":"WNT3a","s":"s","x":78,"y":0},
{"m":"PD-L1","c":"WNT5a","s":"i","x":2,"y":0},{"m":"PD-L1","c":"WNT5a","s":"i","x":6,"y":0.1},{"m":"PD-L1","c":"WNT5a","s":"i","x":10,"y":0.3},{"m":"PD-L1","c":"WNT5a","s":"i","x":14,"y":0.55},{"m":"PD-L1","c":"WNT5a","s":"i","x":18,"y":0.75},{"m":"PD-L1","c":"WNT5a","s":"i","x":21,"y":0.9},{"m":"PD-L1","c":"WNT5a","s":"i","x":24,"y":0.8},{"m":"PD-L1","c":"WNT5a","s":"i","x":27,"y":0.45},{"m":"PD-L1","c":"WNT5a","s":"i","x":30,"y":0.18},{"m":"PD-L1","c":"WNT5a","s":"i","x":33,"y":0.05},{"m":"PD-L1","c":"WNT5a","s":"i","x":36,"y":0},
{"m":"PD-L1","c":"WNT5a","s":"s","x":29,"y":0},{"m":"PD-L1","c":"WNT5a","s":"s","x":33,"y":0.1},{"m":"PD-L1","c":"WNT5a","s":"s","x":37,"y":0.3},{"m":"PD-L1","c":"WNT5a","s":"s","x":41,"y":0.55},{"m":"PD-L1","c":"WNT5a","s":"s","x":44,"y":0.72},{"m":"PD-L1","c":"WNT5a","s":"s","x":47,"y":0.75},{"m":"PD-L1","c":"WNT5a","s":"s","x":51,"y":0.62},{"m":"PD-L1","c":"WNT5a","s":"s","x":55,"y":0.6},{"m":"PD-L1","c":"WNT5a","s":"s","x":58,"y":0.72},{"m":"PD-L1","c":"WNT5a","s":"s","x":61,"y":0.95},{"m":"PD-L1","c":"WNT5a","s":"s","x":63,"y":1.0},{"m":"PD-L1","c":"WNT5a","s":"s","x":66,"y":0.8},{"m":"PD-L1","c":"WNT5a","s":"s","x":69,"y":0.5},{"m":"PD-L1","c":"WNT5a","s":"s","x":72,"y":0.2},{"m":"PD-L1","c":"WNT5a","s":"s","x":75,"y":0},
{"m":"PD-L2","c":"CTRL","s":"i","x":0,"y":0.15},{"m":"PD-L2","c":"CTRL","s":"i","x":2,"y":0.4},{"m":"PD-L2","c":"CTRL","s":"i","x":4,"y":0.7},{"m":"PD-L2","c":"CTRL","s":"i","x":6,"y":0.9},{"m":"PD-L2","c":"CTRL","s":"i","x":9,"y":0.95},{"m":"PD-L2","c":"CTRL","s":"i","x":12,"y":0.85},{"m":"PD-L2","c":"CTRL","s":"i","x":15,"y":0.75},{"m":"PD-L2","c":"CTRL","s":"i","x":18,"y":0.65},{"m":"PD-L2","c":"CTRL","s":"i","x":21,"y":0.5},{"m":"PD-L2","c":"CTRL","s":"i","x":24,"y":0.35},{"m":"PD-L2","c":"CTRL","s":"i","x":27,"y":0.2},{"m":"PD-L2","c":"CTRL","s":"i","x":30,"y":0.08},{"m":"PD-L2","c":"CTRL","s":"i","x":33,"y":0},
{"m":"PD-L2","c":"CTRL","s":"s","x":1,"y":0},{"m":"PD-L2","c":"CTRL","s":"s","x":5,"y":0.05},{"m":"PD-L2","c":"CTRL","s":"s","x":9,"y":0.15},{"m":"PD-L2","c":"CTRL","s":"s","x":13,"y":0.3},{"m":"PD-L2","c":"CTRL","s":"s","x":17,"y":0.5},{"m":"PD-L2","c":"CTRL","s":"s","x":20,"y":0.7},{"m":"PD-L2","c":"CTRL","s":"s","x":23,"y":0.9},{"m":"PD-L2","c":"CTRL","s":"s","x":25,"y":1.0},{"m":"PD-L2","c":"CTRL","s":"s","x":28,"y":0.9},{"m":"PD-L2","c":"CTRL","s":"s","x":32,"y":0.7},{"m":"PD-L2","c":"CTRL","s":"s","x":36,"y":0.5},{"m":"PD-L2","c":"CTRL","s":"s","x":40,"y":0.3},{"m":"PD-L2","c":"CTRL","s":"s","x":44,"y":0.15},{"m":"PD-L2","c":"CTRL","s":"s","x":47,"y":0.05},{"m":"PD-L2","c":"CTRL","s":"s","x":50,"y":0},
{"m":"PD-L2","c":"WNT3a","s":"i","x":0,"y":0.05},{"m":"PD-L2","c":"WNT3a","s":"i","x":3,"y":0.3},{"m":"PD-L2","c":"WNT3a","s":"i","x":6,"y":0.55},{"m":"PD-L2","c":"WNT3a","s":"i","x":9,"y":0.8},{"m":"PD-L2","c":"WNT3a","s":"i","x":12,"y":0.93},{"m":"PD-L2","c":"WNT3a","s":"i","x":15,"y":0.85},{"m":"PD-L2","c":"WNT3a","s":"i","x":18,"y":0.7},{"m":"PD-L2","c":"WNT3a","s":"i","x":21,"y":0.5},{"m":"PD-L2","c":"WNT3a","s":"i","x":24,"y":0.35},{"m":"PD-L2","c":"WNT3a","s":"i","x":27,"y":0.2},{"m":"PD-L2","c":"WNT3a","s":"i","x":30,"y":0.08},{"m":"PD-L2","c":"WNT3a","s":"i","x":33,"y":0},
{"m":"PD-L2","c":"WNT3a","s":"s","x":1,"y":0},{"m":"PD-L2","c":"WNT3a","s":"s","x":5,"y":0.05},{"m":"PD-L2","c":"WNT3a","s":"s","x":9,"y":0.15},{"m":"PD-L2","c":"WNT3a","s":"s","x":13,"y":0.3},{"m":"PD-L2","c":"WNT3a","s":"s","x":17,"y":0.5},{"m":"PD-L2","c":"WNT3a","s":"s","x":21,"y":0.72},{"m":"PD-L2","c":"WNT3a","s":"s","x":24,"y":0.83},{"m":"PD-L2","c":"WNT3a","s":"s","x":27,"y":0.85},{"m":"PD-L2","c":"WNT3a","s":"s","x":30,"y":0.78},{"m":"PD-L2","c":"WNT3a","s":"s","x":34,"y":0.62},{"m":"PD-L2","c":"WNT3a","s":"s","x":38,"y":0.45},{"m":"PD-L2","c":"WNT3a","s":"s","x":42,"y":0.3},{"m":"PD-L2","c":"WNT3a","s":"s","x":46,"y":0.15},{"m":"PD-L2","c":"WNT3a","s":"s","x":50,"y":0},
{"m":"PD-L2","c":"WNT5a","s":"i","x":0,"y":0.1},{"m":"PD-L2","c":"WNT5a","s":"i","x":3,"y":0.35},{"m":"PD-L2","c":"WNT5a","s":"i","x":6,"y":0.6},{"m":"PD-L2","c":"WNT5a","s":"i","x":9,"y":0.82},{"m":"PD-L2","c":"WNT5a","s":"i","x":11,"y":0.85},{"m":"PD-L2","c":"WNT5a","s":"i","x":14,"y":0.7},{"m":"PD-L2","c":"WNT5a","s":"i","x":17,"y":0.55},{"m":"PD-L2","c":"WNT5a","s":"i","x":20,"y":0.42},{"m":"PD-L2","c":"WNT5a","s":"i","x":23,"y":0.3},{"m":"PD-L2","c":"WNT5a","s":"i","x":26,"y":0.18},{"m":"PD-L2","c":"WNT5a","s":"i","x":30,"y":0.07},{"m":"PD-L2","c":"WNT5a","s":"i","x":34,"y":0},
{"m":"PD-L2","c":"WNT5a","s":"s","x":8,"y":0},{"m":"PD-L2","c":"WNT5a","s":"s","x":12,"y":0.1},{"m":"PD-L2","c":"WNT5a","s":"s","x":16,"y":0.28},{"m":"PD-L2","c":"WNT5a","s":"s","x":20,"y":0.5},{"m":"PD-L2","c":"WNT5a","s":"s","x":24,"y":0.72},{"m":"PD-L2","c":"WNT5a","s":"s","x":28,"y":0.92},{"m":"PD-L2","c":"WNT5a","s":"s","x":31,"y":1.0},{"m":"PD-L2","c":"WNT5a","s":"s","x":34,"y":0.95},{"m":"PD-L2","c":"WNT5a","s":"s","x":38,"y":0.75},{"m":"PD-L2","c":"WNT5a","s":"s","x":42,"y":0.5},{"m":"PD-L2","c":"WNT5a","s":"s","x":46,"y":0.25},{"m":"PD-L2","c":"WNT5a","s":"s","x":50,"y":0.08},{"m":"PD-L2","c":"WNT5a","s":"s","x":53,"y":0},
{"m":"MMR","c":"CTRL","s":"i","x":4,"y":0},{"m":"MMR","c":"CTRL","s":"i","x":8,"y":0.12},{"m":"MMR","c":"CTRL","s":"i","x":11,"y":0.4},{"m":"MMR","c":"CTRL","s":"i","x":14,"y":0.7},{"m":"MMR","c":"CTRL","s":"i","x":16,"y":0.9},{"m":"MMR","c":"CTRL","s":"i","x":18,"y":0.98},{"m":"MMR","c":"CTRL","s":"i","x":20,"y":0.85},{"m":"MMR","c":"CTRL","s":"i","x":23,"y":0.55},{"m":"MMR","c":"CTRL","s":"i","x":26,"y":0.3},{"m":"MMR","c":"CTRL","s":"i","x":29,"y":0.1},{"m":"MMR","c":"CTRL","s":"i","x":32,"y":0},
{"m":"MMR","c":"CTRL","s":"s","x":26,"y":0},{"m":"MMR","c":"CTRL","s":"s","x":32,"y":0.05},{"m":"MMR","c":"CTRL","s":"s","x":38,"y":0.12},{"m":"MMR","c":"CTRL","s":"s","x":43,"y":0.2},{"m":"MMR","c":"CTRL","s":"s","x":48,"y":0.28},{"m":"MMR","c":"CTRL","s":"s","x":53,"y":0.38},{"m":"MMR","c":"CTRL","s":"s","x":57,"y":0.5},{"m":"MMR","c":"CTRL","s":"s","x":60,"y":0.7},{"m":"MMR","c":"CTRL","s":"s","x":63,"y":0.9},{"m":"MMR","c":"CTRL","s":"s","x":65,"y":1.0},{"m":"MMR","c":"CTRL","s":"s","x":68,"y":0.8},{"m":"MMR","c":"CTRL","s":"s","x":71,"y":0.55},{"m":"MMR","c":"CTRL","s":"s","x":75,"y":0.3},{"m":"MMR","c":"CTRL","s":"s","x":78,"y":0.12},{"m":"MMR","c":"CTRL","s":"s","x":81,"y":0},
{"m":"MMR","c":"WNT3a","s":"i","x":4,"y":0},{"m":"MMR","c":"WNT3a","s":"i","x":8,"y":0.12},{"m":"MMR","c":"WNT3a","s":"i","x":11,"y":0.4},{"m":"MMR","c":"WNT3a","s":"i","x":14,"y":0.7},{"m":"MMR","c":"WNT3a","s":"i","x":16,"y":0.88},{"m":"MMR","c":"WNT3a","s":"i","x":18,"y":0.95},{"m":"MMR","c":"WNT3a","s":"i","x":20,"y":0.85},{"m":"MMR","c":"WNT3a","s":"i","x":23,"y":0.6},{"m":"MMR","c":"WNT3a","s":"i","x":26,"y":0.35},{"m":"MMR","c":"WNT3a","s":"i","x":29,"y":0.15},{"m":"MMR","c":"WNT3a","s":"i","x":32,"y":0.03},{"m":"MMR","c":"WNT3a","s":"i","x":34,"y":0},
{"m":"MMR","c":"WNT3a","s":"s","x":22,"y":0},{"m":"MMR","c":"WNT3a","s":"s","x":26,"y":0.04},{"m":"MMR","c":"WNT3a","s":"s","x":30,"y":0.1},{"m":"MMR","c":"WNT3a","s":"s","x":34,"y":0.22},{"m":"MMR","c":"WNT3a","s":"s","x":37,"y":0.4},{"m":"MMR","c":"WNT3a","s":"s","x":40,"y":0.7},{"m":"MMR","c":"WNT3a","s":"s","x":43,"y":0.98},{"m":"MMR","c":"WNT3a","s":"s","x":46,"y":0.85},{"m":"MMR","c":"WNT3a","s":"s","x":50,"y":0.8},{"m":"MMR","c":"WNT3a","s":"s","x":54,"y":0.72},{"m":"MMR","c":"WNT3a","s":"s","x":58,"y":0.6},{"m":"MMR","c":"WNT3a","s":"s","x":62,"y":0.45},{"m":"MMR","c":"WNT3a","s":"s","x":66,"y":0.3},{"m":"MMR","c":"WNT3a","s":"s","x":70,"y":0.15},{"m":"MMR","c":"WNT3a","s":"s","x":73,"y":0.05},{"m":"MMR","c":"WNT3a","s":"s","x":76,"y":0},
{"m":"MMR","c":"WNT5a","s":"i","x":5,"y":0},{"m":"MMR","c":"WNT5a","s":"i","x":9,"y":0.15},{"m":"MMR","c":"WNT5a","s":"i","x":12,"y":0.45},{"m":"MMR","c":"WNT5a","s":"i","x":15,"y":0.75},{"m":"MMR","c":"WNT5a","s":"i","x":18,"y":0.9},{"m":"MMR","c":"WNT5a","s":"i","x":20,"y":0.95},{"m":"MMR","c":"WNT5a","s":"i","x":22,"y":0.85},{"m":"MMR","c":"WNT5a","s":"i","x":25,"y":0.55},{"m":"MMR","c":"WNT5a","s":"i","x":28,"y":0.3},{"m":"MMR","c":"WNT5a","s":"i","x":31,"y":0.12},{"m":"MMR","c":"WNT5a","s":"i","x":34,"y":0},
{"m":"MMR","c":"WNT5a","s":"s","x":25,"y":0},{"m":"MMR","c":"WNT5a","s":"s","x":30,"y":0.05},{"m":"MMR","c":"WNT5a","s":"s","x":35,"y":0.15},{"m":"MMR","c":"WNT5a","s":"s","x":40,"y":0.3},{"m":"MMR","c":"WNT5a","s":"s","x":44,"y":0.5},{"m":"MMR","c":"WNT5a","s":"s","x":48,"y":0.7},{"m":"MMR","c":"WNT5a","s":"s","x":52,"y":0.85},{"m":"MMR","c":"WNT5a","s":"s","x":55,"y":0.95},{"m":"MMR","c":"WNT5a","s":"s","x":58,"y":0.98},{"m":"MMR","c":"WNT5a","s":"s","x":61,"y":0.85},{"m":"MMR","c":"WNT5a","s":"s","x":64,"y":0.65},{"m":"MMR","c":"WNT5a","s":"s","x":68,"y":0.4},{"m":"MMR","c":"WNT5a","s":"s","x":72,"y":0.2},{"m":"MMR","c":"WNT5a","s":"s","x":76,"y":0.05},{"m":"MMR","c":"WNT5a","s":"s","x":79,"y":0},
{"m":"E-Cadherina","c":"CTRL","s":"i","x":4,"y":0},{"m":"E-Cadherina","c":"CTRL","s":"i","x":8,"y":0.08},{"m":"E-Cadherina","c":"CTRL","s":"i","x":11,"y":0.25},{"m":"E-Cadherina","c":"CTRL","s":"i","x":14,"y":0.5},{"m":"E-Cadherina","c":"CTRL","s":"i","x":17,"y":0.78},{"m":"E-Cadherina","c":"CTRL","s":"i","x":20,"y":0.92},{"m":"E-Cadherina","c":"CTRL","s":"i","x":23,"y":0.95},{"m":"E-Cadherina","c":"CTRL","s":"i","x":25,"y":0.8},{"m":"E-Cadherina","c":"CTRL","s":"i","x":27,"y":0.55},{"m":"E-Cadherina","c":"CTRL","s":"i","x":30,"y":0.3},{"m":"E-Cadherina","c":"CTRL","s":"i","x":33,"y":0.12},{"m":"E-Cadherina","c":"CTRL","s":"i","x":36,"y":0},
{"m":"E-Cadherina","c":"CTRL","s":"s","x":6,"y":0},{"m":"E-Cadherina","c":"CTRL","s":"s","x":10,"y":0.05},{"m":"E-Cadherina","c":"CTRL","s":"s","x":14,"y":0.15},{"m":"E-Cadherina","c":"CTRL","s":"s","x":18,"y":0.35},{"m":"E-Cadherina","c":"CTRL","s":"s","x":21,"y":0.6},{"m":"E-Cadherina","c":"CTRL","s":"s","x":24,"y":0.85},{"m":"E-Cadherina","c":"CTRL","s":"s","x":26,"y":0.95},{"m":"E-Cadherina","c":"CTRL","s":"s","x":29,"y":0.85},{"m":"E-Cadherina","c":"CTRL","s":"s","x":33,"y":0.65},{"m":"E-Cadherina","c":"CTRL","s":"s","x":37,"y":0.5},{"m":"E-Cadherina","c":"CTRL","s":"s","x":41,"y":0.38},{"m":"E-Cadherina","c":"CTRL","s":"s","x":45,"y":0.25},{"m":"E-Cadherina","c":"CTRL","s":"s","x":49,"y":0.14},{"m":"E-Cadherina","c":"CTRL","s":"s","x":53,"y":0.05},{"m":"E-Cadherina","c":"CTRL","s":"s","x":56,"y":0},
{"m":"E-Cadherina","c":"WNT3a","s":"i","x":6,"y":0},{"m":"E-Cadherina","c":"WNT3a","s":"i","x":10,"y":0.08},{"m":"E-Cadherina","c":"WNT3a","s":"i","x":13,"y":0.3},{"m":"E-Cadherina","c":"WNT3a","s":"i","x":16,"y":0.6},{"m":"E-Cadherina","c":"WNT3a","s":"i","x":19,"y":0.88},{"m":"E-Cadherina","c":"WNT3a","s":"i","x":21,"y":0.95},{"m":"E-Cadherina","c":"WNT3a","s":"i","x":23,"y":0.8},{"m":"E-Cadherina","c":"WNT3a","s":"i","x":25,"y":0.55},{"m":"E-Cadherina","c":"WNT3a","s":"i","x":28,"y":0.3},{"m":"E-Cadherina","c":"WNT3a","s":"i","x":31,"y":0.15},{"m":"E-Cadherina","c":"WNT3a","s":"i","x":34,"y":0.05},{"m":"E-Cadherina","c":"WNT3a","s":"i","x":36,"y":0},
{"m":"E-Cadherina","c":"WNT3a","s":"s","x":12,"y":0},{"m":"E-Cadherina","c":"WNT3a","s":"s","x":16,"y":0.06},{"m":"E-Cadherina","c":"WNT3a","s":"s","x":20,"y":0.2},{"m":"E-Cadherina","c":"WNT3a","s":"s","x":23,"y":0.45},{"m":"E-Cadherina","c":"WNT3a","s":"s","x":26,"y":0.75},{"m":"E-Cadherina","c":"WNT3a","s":"s","x":29,"y":0.92},{"m":"E-Cadherina","c":"WNT3a","s":"s","x":31,"y":0.95},{"m":"E-Cadherina","c":"WNT3a","s":"s","x":34,"y":0.8},{"m":"E-Cadherina","c":"WNT3a","s":"s","x":38,"y":0.6},{"m":"E-Cadherina","c":"WNT3a","s":"s","x":42,"y":0.4},{"m":"E-Cadherina","c":"WNT3a","s":"s","x":46,"y":0.25},{"m":"E-Cadherina","c":"WNT3a","s":"s","x":50,"y":0.12},{"m":"E-Cadherina","c":"WNT3a","s":"s","x":54,"y":0.03},{"m":"E-Cadherina","c":"WNT3a","s":"s","x":56,"y":0},
{"m":"E-Cadherina","c":"WNT5a","s":"i","x":5,"y":0},{"m":"E-Cadherina","c":"WNT5a","s":"i","x":9,"y":0.1},{"m":"E-Cadherina","c":"WNT5a","s":"i","x":12,"y":0.35},{"m":"E-Cadherina","c":"WNT5a","s":"i","x":15,"y":0.7},{"m":"E-Cadherina","c":"WNT5a","s":"i","x":18,"y":0.95},{"m":"E-Cadherina","c":"WNT5a","s":"i","x":20,"y":0.9},{"m":"E-Cadherina","c":"WNT5a","s":"i","x":22,"y":0.7},{"m":"E-Cadherina","c":"WNT5a","s":"i","x":25,"y":0.45},{"m":"E-Cadherina","c":"WNT5a","s":"i","x":28,"y":0.25},{"m":"E-Cadherina","c":"WNT5a","s":"i","x":31,"y":0.1},{"m":"E-Cadherina","c":"WNT5a","s":"i","x":34,"y":0.03},{"m":"E-Cadherina","c":"WNT5a","s":"i","x":37,"y":0},
{"m":"E-Cadherina","c":"WNT5a","s":"s","x":16,"y":0},{"m":"E-Cadherina","c":"WNT5a","s":"s","x":19,"y":0.1},{"m":"E-Cadherina","c":"WNT5a","s":"s","x":22,"y":0.35},{"m":"E-Cadherina","c":"WNT5a","s":"s","x":25,"y":0.75},{"m":"E-Cadherina","c":"WNT5a","s":"s","x":27,"y":0.95},{"m":"E-Cadherina","c":"WNT5a","s":"s","x":29,"y":1.0},{"m":"E-Cadherina","c":"WNT5a","s":"s","x":32,"y":0.85},{"m":"E-Cadherina","c":"WNT5a","s":"s","x":35,"y":0.72},{"m":"E-Cadherina","c":"WNT5a","s":"s","x":39,"y":0.58},{"m":"E-Cadherina","c":"WNT5a","s":"s","x":43,"y":0.42},{"m":"E-Cadherina","c":"WNT5a","s":"s","x":47,"y":0.28},{"m":"E-Cadherina","c":"WNT5a","s":"s","x":51,"y":0.15},{"m":"E-Cadherina","c":"WNT5a","s":"s","x":55,"y":0.05},{"m":"E-Cadherina","c":"WNT5a","s":"s","x":58,"y":0},
{"m":"CD86","c":"CTRL","p":"66%","f":"(74)"},{"m":"CD86","c":"WNT3a","p":"75%","f":"(85)"},{"m":"CD86","c":"WNT5a","p":"50%","f":"(36)"},
{"m":"CD83","c":"CTRL","p":"23%","f":"(19)"},{"m":"CD83","c":"WNT3a","p":"26%","f":"(20)"},{"m":"CD83","c":"WNT5a","p":"36%","f":"(28)"},
{"m":"CD40","c":"CTRL","p":"57%","f":"(20)"},{"m":"CD40","c":"WNT3a","p":"50%","f":"(19)"},{"m":"CD40","c":"WNT5a","p":"70%","f":"(26)"},
{"m":"CD80","c":"CTRL","p":"24%","f":"(20)"},{"m":"CD80","c":"WNT3a","p":"21%","f":"(20)"},{"m":"CD80","c":"WNT5a","p":"31%","f":"(24)"},
{"m":"DC-SIGN","c":"CTRL","f":"(431)"},{"m":"DC-SIGN","c":"WNT3a","f":"(409)"},{"m":"DC-SIGN","c":"WNT5a","f":"(1058)"},
{"m":"HLA-DR","c":"CTRL","p":"82%","f":"(88)"},{"m":"HLA-DR","c":"WNT3a","p":"70%","f":"(74)"},{"m":"HLA-DR","c":"WNT5a","p":"66%","f":"(73)"},
{"m":"PD-L1","c":"CTRL","p":"81%","f":"(91)"},{"m":"PD-L1","c":"WNT3a","p":"88%","f":"(135)"},{"m":"PD-L1","c":"WNT5a","p":"97%","f":"(233)"},
{"m":"PD-L2","c":"CTRL","p":"23%","f":"(15)"},{"m":"PD-L2","c":"WNT3a","p":"35%","f":"(20)"},{"m":"PD-L2","c":"WNT5a","p":"44%","f":"(24)"},
{"m":"MMR","c":"CTRL","p":"99%","f":"(379)"},{"m":"MMR","c":"WNT3a","p":"95%","f":"(145)"},{"m":"MMR","c":"WNT5a","p":"95%","f":"(257)"},
{"m":"E-Cadherina","c":"CTRL","p":"60%","f":"(24)"},{"m":"E-Cadherina","c":"WNT3a","p":"65%","f":"(24)"},{"m":"E-Cadherina","c":"WNT5a","p":"63%","f":"(23)"}
]},
"spacing":19,
"vconcat":[
{
"transform":[{"filter":{"field":"m","oneOf":["CD86","CD83","CD40","CD80","DC-SIGN"]}}],
"facet":{
"column":{"field":"m","type":"nominal","sort":["CD86","CD83","CD40","CD80","DC-SIGN"],"title":null},
"row":{"field":"c","type":"nominal","sort":["CTRL","WNT3a","WNT5a"],"title":null}
},
"spacing":{"row":1.5,"column":1.5},
"spec":{"width":180,"height":72,"layer":[
{"transform":[{"filter":"datum.s=='i'"}],"mark":{"type":"area","color":"#b4b4b4","clip":true},"encoding":{"x":{"field":"x","type":"quantitative","scale":{"domain":[0,100]},"axis":null},"y":{"field":"y","type":"quantitative","scale":{"domain":[0,1]},"axis":null}}},
{"transform":[{"filter":"datum.s=='s'"}],"mark":{"type":"area","clip":true,"opacity":1},"encoding":{"x":{"field":"x","type":"quantitative"},"y":{"field":"y","type":"quantitative"},"color":{"field":"c","type":"nominal","scale":{"domain":["CTRL","WNT3a","WNT5a"],"range":["#4b4b4b","#008f00","#0000f5"]},"legend":null}}},
{"transform":[{"filter":"datum.s=='i'"}],"mark":{"type":"line","color":"#8a8a8a","strokeWidth":1.5,"clip":true},"encoding":{"x":{"field":"x","type":"quantitative"},"y":{"field":"y","type":"quantitative"}}},
{"transform":[{"filter":"datum.s=='s'"}],"mark":{"type":"line","color":"#000000","strokeWidth":1.5,"clip":true},"encoding":{"x":{"field":"x","type":"quantitative"},"y":{"field":"y","type":"quantitative"}}},
{"transform":[{"filter":"isValid(datum.p)"}],"mark":{"type":"text","fontSize":22,"fontWeight":"bold","font":"Liberation Sans","align":"center","baseline":"middle","color":"black"},"encoding":{"x":{"datum":83,"type":"quantitative"},"y":{"datum":0.75,"type":"quantitative"},"text":{"field":"p","type":"nominal"}}},
{"transform":[{"filter":"isValid(datum.p)"}],"mark":{"type":"text","fontSize":22,"fontWeight":"bold","font":"Liberation Sans","align":"center","baseline":"middle","color":"black"},"encoding":{"x":{"datum":83,"type":"quantitative"},"y":{"datum":0.36,"type":"quantitative"},"text":{"field":"f","type":"nominal"}}},
{"transform":[{"filter":"datum.m=='DC-SIGN' && isValid(datum.f)"}],"mark":{"type":"text","fontSize":22,"fontWeight":"bold","font":"Liberation Sans","align":"center","baseline":"middle","color":"black"},"encoding":{"x":{"datum":37,"type":"quantitative"},"y":{"datum":0.72,"type":"quantitative"},"text":{"field":"f","type":"nominal"}}}
]}
},
{
"transform":[{"filter":{"field":"m","oneOf":["HLA-DR","PD-L1","PD-L2","MMR","E-Cadherina"]}}],
"facet":{
"column":{"field":"m","type":"nominal","sort":["HLA-DR","PD-L1","PD-L2","MMR","E-Cadherina"],"title":null},
"row":{"field":"c","type":"nominal","sort":["CTRL","WNT3a","WNT5a"],"title":null}
},
"spacing":{"row":1.5,"column":1.5},
"spec":{"width":180,"height":72,"layer":[
{"transform":[{"filter":"datum.s=='i'"}],"mark":{"type":"area","color":"#b4b4b4","clip":true},"encoding":{"x":{"field":"x","type":"quantitative","scale":{"domain":[0,100]},"axis":null},"y":{"field":"y","type":"quantitative","scale":{"domain":[0,1]},"axis":null}}},
{"transform":[{"filter":"datum.s=='s'"}],"mark":{"type":"area","clip":true,"opacity":1},"encoding":{"x":{"field":"x","type":"quantitative"},"y":{"field":"y","type":"quantitative"},"color":{"field":"c","type":"nominal","scale":{"domain":["CTRL","WNT3a","WNT5a"],"range":["#4b4b4b","#008f00","#0000f5"]},"legend":null}}},
{"transform":[{"filter":"datum.s=='i'"}],"mark":{"type":"line","color":"#8a8a8a","strokeWidth":1.5,"clip":true},"encoding":{"x":{"field":"x","type":"quantitative"},"y":{"field":"y","type":"quantitative"}}},
{"transform":[{"filter":"datum.s=='s'"}],"mark":{"type":"line","color":"#000000","strokeWidth":1.5,"clip":true},"encoding":{"x":{"field":"x","type":"quantitative"},"y":{"field":"y","type":"quantitative"}}},
{"transform":[{"filter":"isValid(datum.p)"}],"mark":{"type":"text","fontSize":22,"fontWeight":"bold","font":"Liberation Sans","align":"center","baseline":"middle","color":"black"},"encoding":{"x":{"datum":84,"type":"quantitative"},"y":{"datum":0.75,"type":"quantitative"},"text":{"field":"p","type":"nominal"}}},
{"transform":[{"filter":"isValid(datum.p)"}],"mark":{"type":"text","fontSize":22,"fontWeight":"bold","font":"Liberation Sans","align":"center","baseline":"middle","color":"black"},"encoding":{"x":{"datum":84,"type":"quantitative"},"y":{"datum":0.41,"type":"quantitative"},"text":{"field":"f","type":"nominal"}}}
]}
}
],
"config":{
"font":"Liberation Sans",
"view":{"stroke":"#6e6e6e","strokeWidth":2},
"header":{"labelFont":"Liberation Sans","labelFontSize":34,"labelFontWeight":"bold","labelColor":"#000000"},
"headerColumn":{"labelPadding":3,"labelBaseline":"top"},
"headerRow":{"labelAngle":0,"labelAlign":"left","labelBaseline":"middle","labelPadding":16}
}
}
